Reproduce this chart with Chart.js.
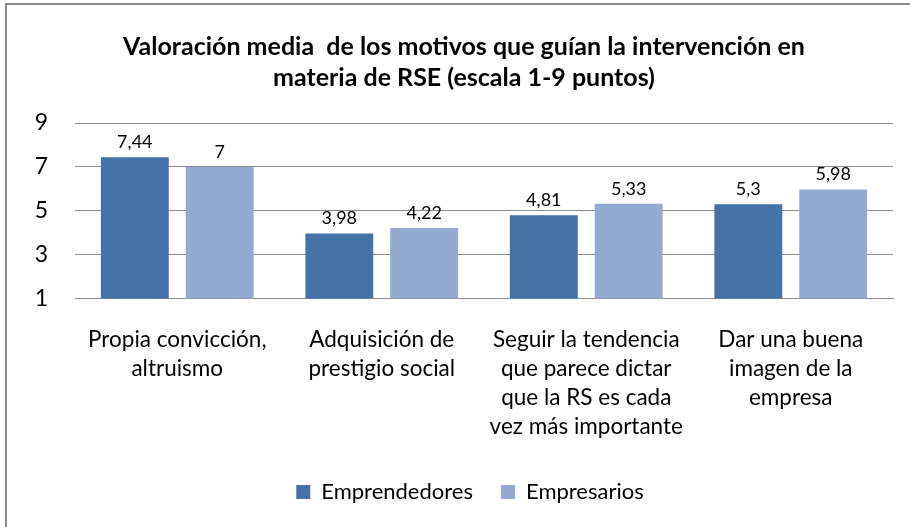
<!DOCTYPE html>
<html>
<head>
<meta charset="utf-8">
<script src="https://cdn.jsdelivr.net/npm/chart.js@4/dist/chart.umd.min.js"></script>
<style>
  html, body { margin: 0; padding: 0; background: #fff; }
  .frame {
    position: absolute; left: 5px; top: 3px; width: 905px; height: 524px;
    border-left: 2px solid #8c8c8c; border-top: 2px solid #8c8c8c;
    box-sizing: border-box;
  }
  .wrap { position: absolute; left: 0; top: 0; width: 910px; height: 527px; }
</style>
</head>
<body>
<div class="frame"></div>
<div class="wrap"><canvas id="chart"></canvas></div>
<script>
const categories = [
  ['Propia convicción,', 'altruismo'],
  ['Adquisición de', 'prestigio social'],
  ['Seguir la tendencia', 'que parece dictar', 'que la RS es cada', 'vez más importante'],
  ['Dar una buena', 'imagen de la', 'empresa'],
]
const emprendedores = [7.44, 3.98, 4.81, 5.3]
const empresarios = [7, 4.22, 5.33, 5.98]
const yTicks = [1, 3, 5, 7, 9]

const FONT = 'Lato, "Liberation Sans", sans-serif'

// value labels above each bar, decimal comma like the original
const valueLabels = {
  id: 'valueLabels',
  afterLayout(chart) {
    // nudge the legend a little right, as in the original
    chart.legend.left += 6
    chart.legend.right += 6
  },
  afterDatasetsDraw(chart) {
    const { ctx } = chart
    ctx.save()
    ctx.font = `18px ${FONT}`
    ctx.fillStyle = '#000'
    ctx.textAlign = 'center'
    ctx.textBaseline = 'bottom'
    chart.data.datasets.forEach((ds, i) => {
      chart.getDatasetMeta(i).data.forEach((bar, j) => {
        ctx.fillText(String(ds.data[j]).replace('.', ','), bar.x, bar.y - 6)
      })
    })
    ctx.restore()
  },
}

new Chart(document.getElementById('chart'), {
  type: 'bar',
  data: {
    labels: categories,
    datasets: [
      { label: 'Emprendedores', data: emprendedores, backgroundColor: '#4572a7', base: 1 },
      { label: 'Empresarios', data: empresarios, backgroundColor: '#93a9cf', base: 1 },
    ],
  },
  options: {
    responsive: true,
    maintainAspectRatio: false,
    animation: false,
    categoryPercentage: 0.83,
    barPercentage: 0.8,
    layout: { padding: { left: 35, right: 17, top: 0, bottom: 14 } },
    plugins: {
      title: {
        display: true,
        text: ['Valoración media  de los motivos que guían la intervención en', 'materia de RSE (escala 1-9 puntos)'],
        color: '#000',
        font: { family: FONT, size: 25, weight: 'bold', lineHeight: 1.24 },
        padding: { top: 31, bottom: 30 },
      },
      legend: {
        position: 'bottom',
        labels: {
          color: '#000',
          font: { family: FONT, size: 22 },
          boxWidth: 14,
          boxHeight: 14,
          padding: 28,
        },
      },
      tooltip: { enabled: false },
    },
    scales: {
      x: {
        grid: { display: false },
        border: { color: '#8c8c8c', width: 1 },
        ticks: { color: '#000', font: { family: FONT, size: 22.5, lineHeight: 1.29 }, maxRotation: 0, padding: 18 },
        afterFit(axis) {
          axis.height -= 6
          axis.paddingLeft = 0
          axis.paddingRight = 0
        },
      },
      y: {
        min: 1,
        max: 9,
        afterBuildTicks(axis) { axis.ticks = yTicks.map((v) => ({ value: v })) },
        afterFit(axis) { axis.width = 40 },
        grid: { color: '#8c8c8c', drawTicks: false },
        border: { display: false },
        ticks: { color: '#000', font: { family: FONT, size: 23 }, padding: 27 },
      },
    },
  },
  plugins: [valueLabels],
})
</script>
</body>
</html>
